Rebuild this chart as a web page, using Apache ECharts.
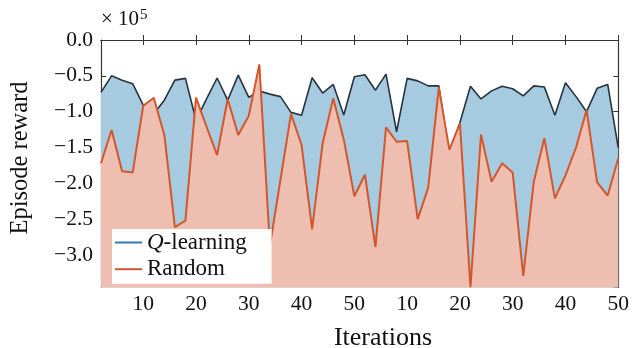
<!DOCTYPE html>
<html><head><meta charset="utf-8">
<script src="https://cdn.jsdelivr.net/npm/echarts@6/dist/echarts.min.js"></script>
<style>html,body{margin:0;padding:0;background:#fff}#c{width:632px;height:348px}</style>
</head><body><div id="c"></div>
<script>
// Iteration index of each sample (two runs of 50 iterations, sampled every 2)
const iterations = [2,4,6,8,10,12,14,16,18,20,22,24,26,28,30,32,34,36,38,40,42,44,46,48,50,
                    2,4,6,8,10,12,14,16,18,20,22,24,26,28,30,32,34,36,38,40,42,44,46,48,50];
const qLearning = [-73000,-50000,-56000,-61000,-91000,-103000,-84000,-56000,-53500,-112000,
  -82000,-53000,-84000,-49000,-80000,-71000,-75500,-79000,-101000,-105000,
  -52600,-74000,-62000,-104700,-51200,-48500,-70000,-47600,-128000,-53500,
  -57000,-64000,-64000,-160000,-115000,-64500,-82300,-71000,-64500,-68000,
  -78000,-64000,-65500,-105000,-59500,-79000,-100000,-67400,-62000,-150000];
const randomPolicy = [-172000,-125600,-183000,-185000,-91700,-80500,-132500,-261000,-252000,-80500,
  -121000,-160500,-82300,-132500,-105600,-34000,-287000,-195000,-103000,-146500,
  -264000,-144000,-81400,-139000,-218000,-188000,-289000,-122000,-142000,-141000,
  -250000,-206000,-66000,-153000,-116300,-345000,-132000,-197700,-172000,-185000,
  -329000,-197700,-137000,-221000,-189000,-150000,-97700,-198500,-217000,-165000];
const yMin = -345300, yMax = 0;
const scaleExp = 5;

const FONT = 'Liberation Serif';
const AX = '#333333';
const TICK_FS = 21.5;
const tickEvery = (i) => (i + 1) % 5 === 0;
const fmtY = (v) => { const s = (v / Math.pow(10, scaleExp)).toFixed(1); return s.replace('-', '\u2212'); };

const chart = echarts.init(document.getElementById('c'), null, {renderer: 'canvas'});
const baseX = {
  type: 'category', data: iterations, boundaryGap: false,
  axisLine: {show: true, lineStyle: {color: AX, width: 1.2}},
  splitLine: {show: false}
};
const baseY = {
  type: 'value', min: yMin, max: yMax, splitNumber: 7,
  axisLine: {show: true, lineStyle: {color: AX, width: 1.2}},
  splitLine: {show: false}
};
chart.setOption({
  animation: false,
  grid: {left: 101, right: 12.5, top: 40, bottom: 60.5, containLabel: false},
  xAxis: [
    Object.assign({}, baseX, {position: 'bottom',
      axisTick: {show: true, inside: true, length: 5, interval: tickEvery, lineStyle: {color: AX, width: 1}},
      axisLabel: {show: true, interval: tickEvery, margin: 6, color: '#111', fontFamily: FONT, fontSize: TICK_FS}}),
    Object.assign({}, baseX, {position: 'top',
      axisTick: {show: true, inside: true, length: 5, interval: tickEvery, lineStyle: {color: AX, width: 1}},
      axisLabel: {show: false}})
  ],
  yAxis: [
    Object.assign({}, baseY, {position: 'left',
      axisTick: {show: true, inside: true, length: 5, lineStyle: {color: AX, width: 1}},
      axisLabel: {show: true, showMinLabel: false, margin: 8, formatter: fmtY, color: '#111', fontFamily: FONT, fontSize: TICK_FS}}),
    Object.assign({}, baseY, {position: 'right',
      axisTick: {show: true, inside: true, length: 5, lineStyle: {color: AX, width: 1}},
      axisLabel: {show: false}})
  ],
  legend: {
    orient: 'vertical', left: 112, top: 229, z: 20,
    backgroundColor: '#ffffff', borderWidth: 0,
    padding: [2, 25, 3, 3], itemGap: 3.7, itemWidth: 27, itemHeight: 2,
    icon: 'rect',
    textStyle: {fontFamily: FONT, fontSize: 23, color: '#111',
      rich: {i: {fontFamily: FONT, fontSize: 23, fontStyle: 'italic', color: '#111'}}},
    formatter: (n) => n === 'Q-learning' ? '{i|Q}-learning' : n,
    data: [
      {name: 'Q-learning', itemStyle: {color: '#3179bd'}},
      {name: 'Random', itemStyle: {color: '#d2572d'}}
    ]
  },
  graphic: [
    {type: 'text', left: 101, top: 8, z: 20,
      style: {text: '{a|\u00d7 10}{b|' + scaleExp + '}', fill: '#111',
        rich: {a: {fontFamily: FONT, fontSize: 21, fill: '#111'},
               b: {fontFamily: FONT, fontSize: 15, fill: '#111', verticalAlign: 'top', padding: [0, 0, 8, 1]}}}},
    {type: 'text', x: 21, y: 158, rotation: Math.PI / 2, z: 20,
      style: {text: 'Episode reward', fontFamily: FONT, fontSize: 24.5, fill: '#111', align: 'center', verticalAlign: 'middle'}},
    {type: 'text', x: 383, y: 338, z: 20,
      style: {text: 'Iterations', fontFamily: FONT, fontSize: 26, fill: '#111', align: 'center', verticalAlign: 'middle'}}
  ],
  series: [
    {name: 'Q-learning', type: 'line', data: qLearning, xAxisIndex: 0, yAxisIndex: 0,
      symbol: 'none', smooth: false, z: 2,
      lineStyle: {color: '#27333e', width: 1.6},
      itemStyle: {color: '#3179bd'},
      areaStyle: {color: '#a6cadf', opacity: 1, origin: 'start'}},
    {name: 'Random', type: 'line', data: randomPolicy, xAxisIndex: 0, yAxisIndex: 0,
      symbol: 'none', smooth: false, z: 3,
      lineStyle: {color: '#d2572d', width: 2},
      itemStyle: {color: '#d2572d'},
      areaStyle: {color: '#eebfb0', opacity: 1, origin: 'start'}}
  ]
});
</script></body></html>
